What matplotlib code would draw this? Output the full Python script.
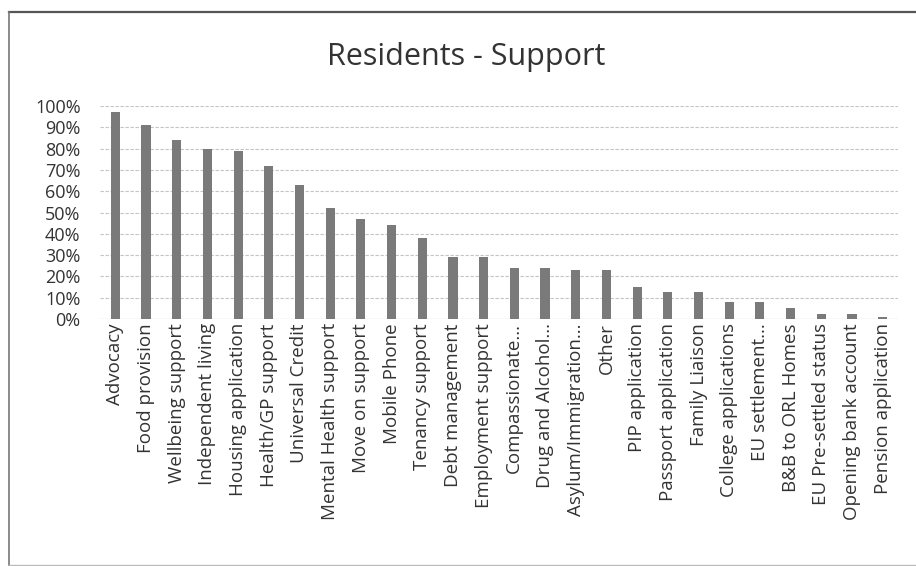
import matplotlib.pyplot as plt
from matplotlib.lines import Line2D
from matplotlib.ticker import PercentFormatter

plt.rcParams['font.family'] = ['Open Sans', 'DejaVu Sans']

categories = [
    "Advocacy", "Food provision", "Wellbeing support", "Independent living",
    "Housing application", "Health/GP support", "Universal Credit",
    "Mental Health support", "Move on support", "Mobile Phone",
    "Tenancy support", "Debt management", "Employment support",
    "Compassionate...", "Drug and Alcohol...", "Asylum/Immigration...",
    "Other", "PIP application", "Passport application", "Family Liaison",
    "College applications", "EU settlement...", "B&B to ORL Homes",
    "EU Pre-settled status", "Opening bank account", "Pension application",
]
values = [97, 91, 84, 80, 79, 72, 63, 52, 47, 44, 38, 29, 29,
          24, 24, 23, 23, 15, 12.5, 12.5, 8, 8, 5, 2.5, 2.5, 1]
yticks = list(range(0, 101, 10))

fig = plt.figure(figsize=(9.16, 5.66), dpi=100)
ax = fig.add_axes([100 / 916, 1 - 319 / 566, 798 / 916, 213 / 566])

x = range(len(categories))
ax.bar(x, values, width=0.3, color="#7a7a7a", zorder=3)

ax.set_xlim(-0.5, len(categories) - 0.5)
ax.set_ylim(0, 100)
ax.set_yticks(yticks)
ax.yaxis.set_major_formatter(PercentFormatter(decimals=0))
ax.set_xticks(list(x))
ax.set_xticklabels(categories, rotation=90, fontsize=13.5, color="#333333")
ax.tick_params(axis="y", labelsize=13, labelcolor="#333333", length=0, pad=14)
ax.tick_params(axis="x", length=0, pad=3)
ax.grid(axis="y", color="#c4c4c4", linewidth=0.8, linestyle=(0, (3, 1.5)), zorder=0)
for s in ax.spines.values():
    s.set_visible(False)
ax.axhline(0, color="#bdbdbd", linewidth=0.8, zorder=2)

fig.text(466 / 916, 1 - 57 / 566, "Residents - Support", ha="center", va="center",
         fontsize=22, color="#333333")

# outer chart border (scanned Excel frame)
fig.add_artist(Line2D([9 / 916, 1.0], [1 - 12 / 566] * 2, color="#555555", linewidth=1.6))
fig.add_artist(Line2D([9 / 916] * 2, [1 - 12 / 566, 1 - 565 / 566], color="#777777", linewidth=1.2))
fig.add_artist(Line2D([9 / 916, 1.0], [1 - 565 / 566] * 2, color="#bbbbbb", linewidth=1.0))

fig.savefig("out.png", dpi=100)
